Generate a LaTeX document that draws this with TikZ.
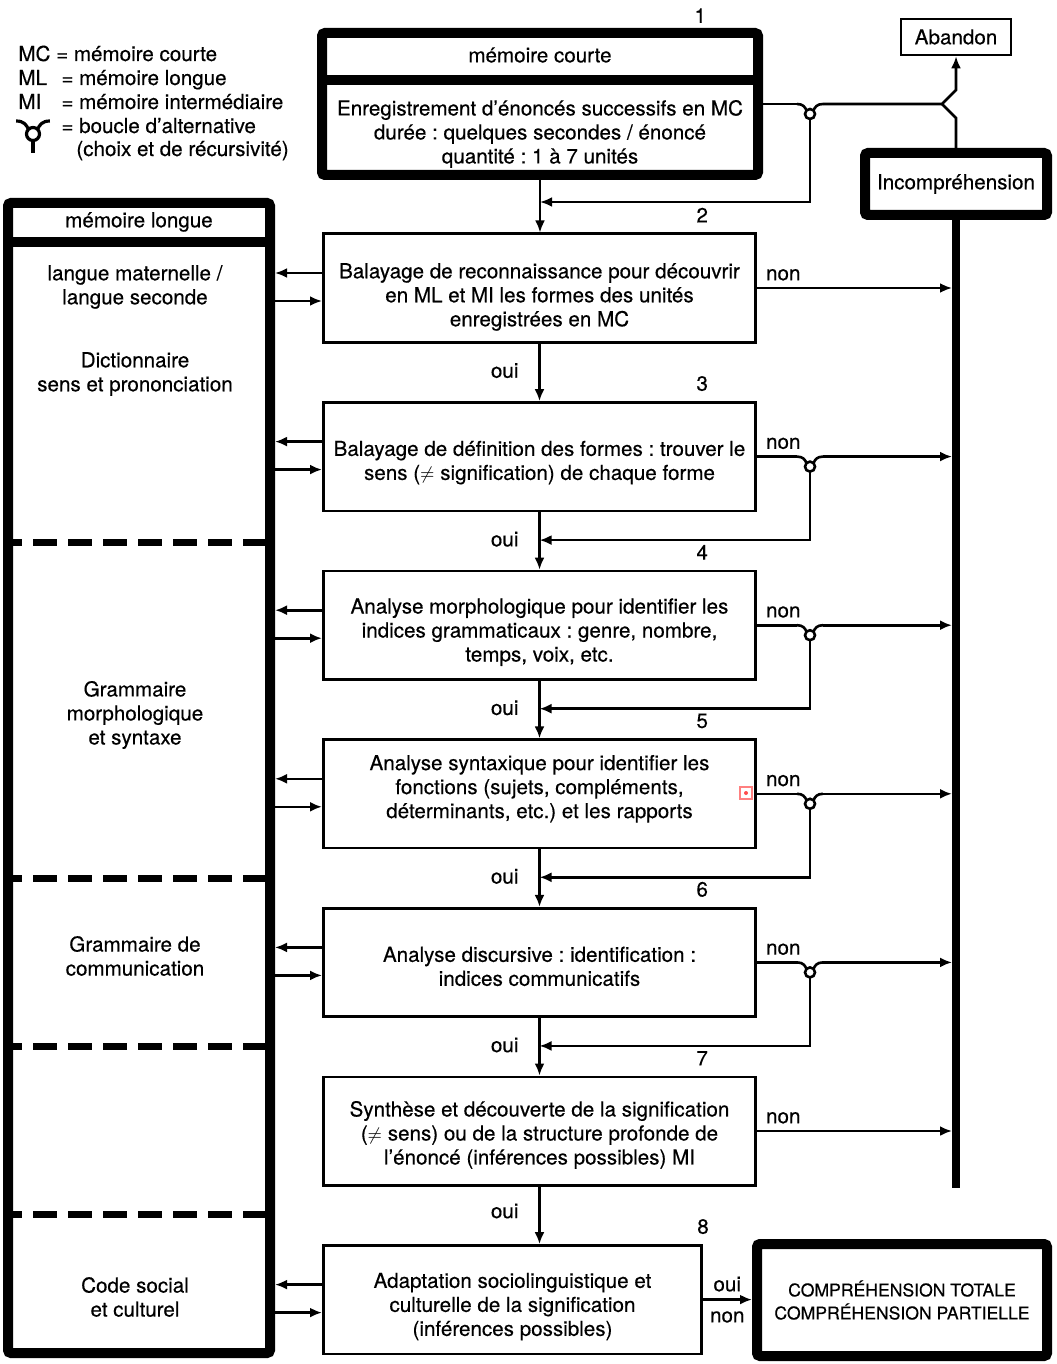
\documentclass[tikz,border=0pt]{standalone}
\usepackage{fontspec}
\setmainfont{TeX Gyre Heros}[FakeBold=0.4]
\frenchspacing
\usetikzlibrary{positioning,arrows.meta}

\begin{document}
\begin{tikzpicture}[x=0.5pt,y=-0.5pt,>={Latex[length=6pt,width=5pt]},
		font=\fontsize{10.3}{12}\selectfont,
		trait/.style={line width=1.3pt},
		etape/.style={draw,trait,minimum width=216.2pt,minimum height=54.2pt},
		txt/.style={align=center,inner sep=0pt},
		cadre/.style={draw,line width=5pt,rounded corners=1.5pt,align=center,inner sep=0pt},
		tiret/.style={line width=3.5pt,dash pattern=on 12pt off 5.5pt,dash phase=2.5pt},
		leg/.style={anchor=base west,inner sep=0pt},
		bcl/.pic={
			\draw (-13,0) .. controls (-7,0) and (-5,3) .. (-3.5,6.5);
			\draw (13,0) .. controls (7,0) and (5,3) .. (3.5,6.5);
			\draw (0,10) circle[radius=5];
		}]
	\useasboundingbox (0,0) rectangle (1056,1364);
	% legende
	\node[leg] (lmc) at (18,61) {MC = mémoire courte};
	\node[leg] (lml) at (18,85) {ML};
	\node[leg] (lmi) at (18,109) {MI};
	\node[leg] (eml) at (61,85) {= mémoire longue};
	\node[leg] (emi) at (61,109) {= mémoire intermédiaire};
	\node[leg] (ebcl) at (61,133) {= boucle d’alternative};
	\node[leg] (echx) at (76,156) {(choix et de récursivité)};
	\pic[line width=1.6pt,scale=1.3] at (33,121) {bcl};
	\draw[line width=1.6pt] (33,140) -- (33,153);
	% memoire courte
	\node[cadre,minimum width=218pt,minimum height=71pt] (mc) at (540,104) {};
	\draw[line width=5pt] (mc.west |- 0,80) -- (mc.east |- 0,80);
	\node (mct) at (540,55) {mémoire courte};
	\node[txt] (enr) at (540,134) {Enregistrement d’énoncés successifs en MC\\durée : quelques secondes / énoncé\\quantité : 1 à 7 unités};
	\node (n1) [above left=-1pt and 25pt of mc.north east] {1};
	\node[draw,trait,minimum width=55pt,minimum height=18pt] (ab) at (956,37) {Abandon};
	\node[cadre,minimum width=91pt,minimum height=31pt] (inc) at (956,184) {Incompréhension};
	\coordinate (barB) at (956,1188);
	\coordinate (k) at (942,104);
	\draw[line width=4pt] (inc.south) -- (barB);
	\draw[trait] (mc.east) -- ++(34,0);
	\pic[trait] at ([xshift=23.5pt]mc.east) {bcl};
	\draw[trait,->] ([xshift=30pt]mc.east) -- (k) -- (956,90) -- (ab.south);
	\draw[trait] (inc.north) -- (956,118) -- (k);
	\draw[trait,->] ([xshift=23.5pt,yshift=-7.5pt]mc.east) |- ([yshift=-11pt]mc.south);
	% memoire longue
	\node[cadre,minimum width=131pt,minimum height=575pt] (ml) at (139,778) {};
	\draw[line width=5pt] (ml.west |- 0,242) -- (ml.east |- 0,242);
	\node (mlt) at (139,222) {mémoire longue};
	\node[txt] (lg) at (135,287) {langue maternelle /\\langue seconde};
	\node[txt] (dic) at (135,374) {Dictionnaire\\sens et prononciation};
	\node[txt] (gms) at (135,715) {Grammaire\\morphologique\\et syntaxe};
	\node[txt] (gc) at (135,956) {Grammaire de\\communication};
	\node[txt] (csc) at (135,1297) {Code social\\et culturel};
	\draw[tiret] (ml.west |- 0,542) -- (ml.east |- 0,542);
	\draw[tiret] (ml.west |- 0,878) -- (ml.east |- 0,878);
	\draw[tiret] (ml.west |- 0,1046) -- (ml.east |- 0,1046);
	\draw[tiret] (ml.west |- 0,1214) -- (ml.east |- 0,1214);
	% etapes
	\node[etape] (b2) at (539.5,288) {};
	\node[etape] (b3) [below=28.8pt of b2] {};
	\node[etape] (b4) [below=28.8pt of b3] {};
	\node[etape] (b5) [below=28.8pt of b4] {};
	\node[etape] (b6) [below=28.8pt of b5] {};
	\node[etape] (b7) [below=28.8pt of b6] {};
	\node[etape,minimum width=189.2pt] (b8) [below=28.8pt of b7.south west,anchor=north west] {};
	\node[txt] (t2) at ([yshift=-4.5pt]b2.center) {Balayage de reconnaissance pour découvrir\\en ML et MI les formes des unités\\enregistrées en MC};
	\node[txt] (t3) at ([yshift=-3pt]b3.center) {Balayage de définition des formes : trouver le\\sens ({\small$\neq$} signification) de chaque forme};
	\node[txt] (t4) at ([yshift=-3.5pt]b4.center) {Analyse morphologique pour identifier les\\indices grammaticaux : genre, nombre,\\temps, voix, etc.};
	\node[txt] (t5) at ([yshift=2.5pt]b5.center) {Analyse syntaxique pour identifier les\\fonctions (sujets, compléments,\\déterminants, etc.) et les rapports};
	\node[txt] (t6) at ([yshift=-2pt]b6.center) {Analyse discursive : identification :\\indices communicatifs};
	\node[txt] (t7) at ([yshift=-2pt]b7.center) {Synthèse et découverte de la signification\\({\small$\neq$} sens) ou de la structure profonde de\\l’énoncé (inférences possibles) MI};
	\node[txt] (t8) at ([yshift=-3.5pt]b8.center) {Adaptation sociolinguistique et\\culturelle de la signification\\(inférences possibles)};
	\node[cadre,minimum width=145pt,minimum height=56pt,font=\fontsize{8.8}{11.5}\selectfont] (comp) at (902,1300) {COMPRÉHENSION TOTALE\\COMPRÉHENSION PARTIELLE};
	\node (n2) [above left=1.5pt and 21pt of b2.north east] {2};
	\node (n3) [above left=1.5pt and 21pt of b3.north east] {3};
	\node (n4) [above left=1.5pt and 21pt of b4.north east] {4};
	\node (n5) [above left=1.5pt and 21pt of b5.north east] {5};
	\node (n6) [above left=1.5pt and 21pt of b6.north east] {6};
	\node (n7) [above left=1.5pt and 21pt of b7.north east] {7};
	\node (n8) [above=1.5pt of b8.north east] {8};
	% oui
	\draw[trait,->] (mc.south) -- (mc.south |- b2.north);
	\draw[trait,->] (b2) -- (b3);
	\draw[trait,->] (b3) -- (b4);
	\draw[trait,->] (b4) -- (b5);
	\draw[trait,->] (b5) -- (b6);
	\draw[trait,->] (b6) -- (b7);
	\draw[trait,->] (b7.south) -- (b7.south |- b8.north);
	\node (o2) [below left=6.3pt and 7pt of b2.south] {oui};
	\node (o3) [below left=6.3pt and 7pt of b3.south] {oui};
	\node (o4) [below left=6.3pt and 7pt of b4.south] {oui};
	\node (o5) [below left=6.3pt and 7pt of b5.south] {oui};
	\node (o6) [below left=6.3pt and 7pt of b6.south] {oui};
	\node (o7) [below left=5pt and 7pt of b7.south] {oui};
	% non
	\draw[trait,->] (b2.east) -- ([xshift=-2pt]b2.east -| barB);
	\draw[trait,->] (b7.east) -- ([xshift=-2pt]b7.east -| barB);
	\draw[trait] (b3.east) -- ++(40,0);
	\draw[trait] (b4.east) -- ++(40,0);
	\draw[trait] (b5.east) -- ++(40,0);
	\draw[trait] (b6.east) -- ++(40,0);
	\pic[trait] at ([xshift=26.5pt]b3.east) {bcl};
	\pic[trait] at ([xshift=26.5pt]b4.east) {bcl};
	\pic[trait] at ([xshift=26.5pt]b5.east) {bcl};
	\pic[trait] at ([xshift=26.5pt]b6.east) {bcl};
	\draw[trait,->] ([xshift=33pt]b3.east) -- ([xshift=-2pt]b3.east -| barB);
	\draw[trait,->] ([xshift=33pt]b4.east) -- ([xshift=-2pt]b4.east -| barB);
	\draw[trait,->] ([xshift=33pt]b5.east) -- ([xshift=-2pt]b5.east -| barB);
	\draw[trait,->] ([xshift=33pt]b6.east) -- ([xshift=-2pt]b6.east -| barB);
	\draw[trait,->] ([xshift=26.5pt,yshift=-7.5pt]b3.east) |- ([yshift=-14pt]b3.south);
	\draw[trait,->] ([xshift=26.5pt,yshift=-7.5pt]b4.east) |- ([yshift=-14pt]b4.south);
	\draw[trait,->] ([xshift=26.5pt,yshift=-7.5pt]b5.east) |- ([yshift=-14pt]b5.south);
	\draw[trait,->] ([xshift=26.5pt,yshift=-7.5pt]b6.east) |- ([yshift=-14pt]b6.south);
	\node (x2) [above right=0.2pt and 1pt of b2.east] {non};
	\node (x3) [above right=0.2pt and 1pt of b3.east] {non};
	\node (x4) [above right=0.2pt and 1pt of b4.east] {non};
	\node (x5) [above right=0.2pt and 1pt of b5.east] {non};
	\node (x6) [above right=0.2pt and 1pt of b6.east] {non};
	\node (x7) [above right=0.2pt and 1pt of b7.east] {non};
	\draw[trait,->] (b8.east) -- (b8.east -| comp.west);
	\node (o8) [above right=0.5pt and 1.7pt of b8.east] {oui};
	\node (x8) [below right=2.3pt and 0pt of b8.east] {non};
	% vers la memoire longue
	\draw[trait,->] ([yshift=7.5pt]b2.west) -- ([yshift=7.5pt]b2.west -| ml.east);
	\draw[trait,->] ([yshift=-6.5pt]b2.west -| ml.east) -- ([yshift=-6.5pt]b2.west);
	\draw[trait,->] ([yshift=7.5pt]b3.west) -- ([yshift=7.5pt]b3.west -| ml.east);
	\draw[trait,->] ([yshift=-6.5pt]b3.west -| ml.east) -- ([yshift=-6.5pt]b3.west);
	\draw[trait,->] ([yshift=7.5pt]b4.west) -- ([yshift=7.5pt]b4.west -| ml.east);
	\draw[trait,->] ([yshift=-6.5pt]b4.west -| ml.east) -- ([yshift=-6.5pt]b4.west);
	\draw[trait,->] ([yshift=7.5pt]b5.west) -- ([yshift=7.5pt]b5.west -| ml.east);
	\draw[trait,->] ([yshift=-6.5pt]b5.west -| ml.east) -- ([yshift=-6.5pt]b5.west);
	\draw[trait,->] ([yshift=7.5pt]b6.west) -- ([yshift=7.5pt]b6.west -| ml.east);
	\draw[trait,->] ([yshift=-6.5pt]b6.west -| ml.east) -- ([yshift=-6.5pt]b6.west);
	\draw[trait,->] ([yshift=7.5pt]b8.west) -- ([yshift=7.5pt]b8.west -| ml.east);
	\draw[trait,->] ([yshift=-6.5pt]b8.west -| ml.east) -- ([yshift=-6.5pt]b8.west);
	% \draw[red] (b5.east) circle (4pt);
	\draw[red!50,line width=0.7pt] (740,787) rectangle (752,799);
	\fill[red!70] (746,793) circle[radius=2];
\end{tikzpicture}
\end{document}
